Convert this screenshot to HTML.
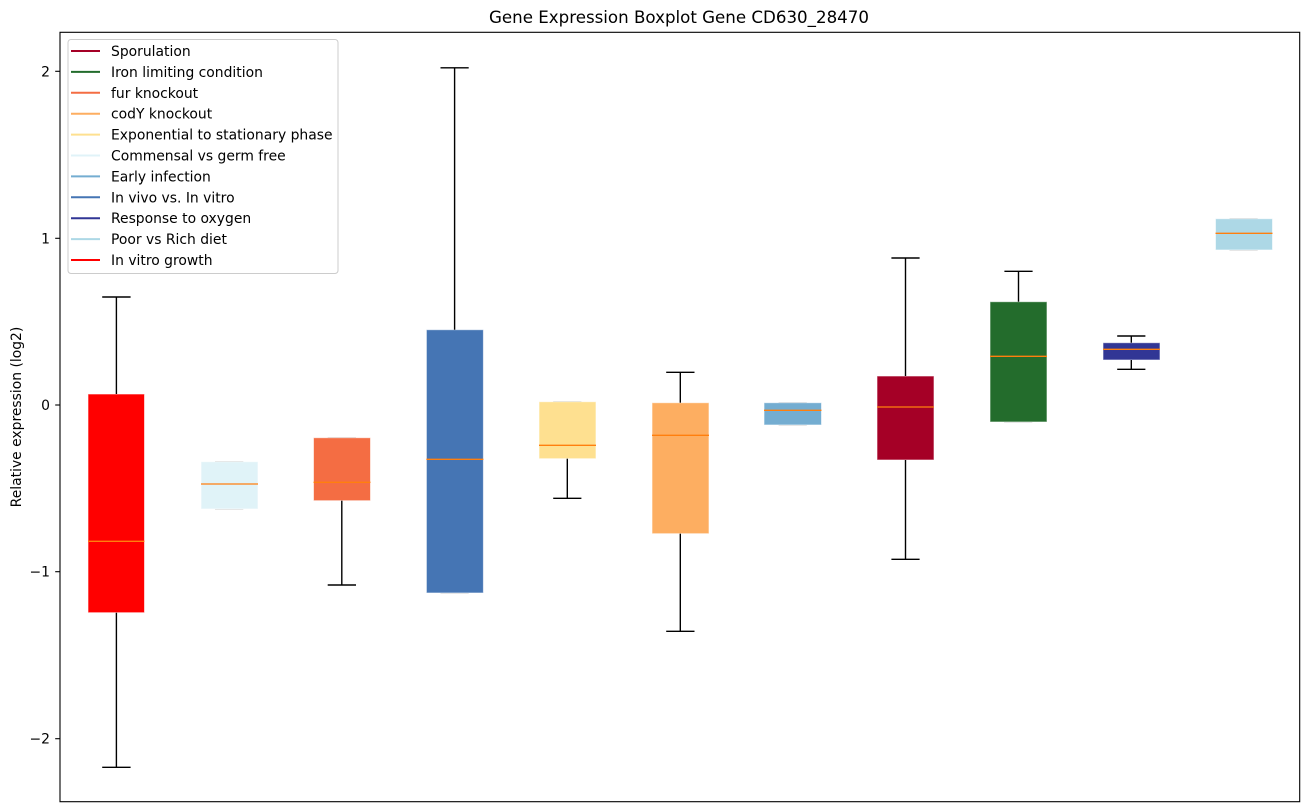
<!DOCTYPE html>
<html><head><meta charset="utf-8"><style>
html,body{margin:0;padding:0;background:#fff;}
svg{display:block;}
text{font-family:"DejaVu Sans","Liberation Sans",sans-serif;fill:#000;}
</style></head><body>
<svg width="1309" height="812" viewBox="0 0 1309 812" xmlns="http://www.w3.org/2000/svg">
<rect x="0" y="0" width="1309" height="812" fill="#fff"/>
<text x="679" y="23" font-size="16.67" text-anchor="middle">Gene Expression Boxplot Gene CD630_28470</text>

<!-- gray caps coinciding with box edges -->
<g stroke="#c8c8c8" stroke-width="1.4">
<line x1="215" x2="243.3" y1="461.7" y2="461.7"/><line x1="215" x2="243.3" y1="509" y2="509"/>
<line x1="327.7" x2="356" y1="437.7" y2="437.7"/>
<line x1="440.5" x2="468.7" y1="593" y2="593"/>
<line x1="553.2" x2="581.4" y1="401.7" y2="401.7"/>
<line x1="778.6" x2="806.8" y1="402.7" y2="402.7"/><line x1="778.6" x2="806.8" y1="425" y2="425"/>
<line x1="1004.1" x2="1032.3" y1="422" y2="422"/>
<line x1="1229.5" x2="1257.7" y1="218.7" y2="218.7"/><line x1="1229.5" x2="1257.7" y1="250" y2="250"/>
</g>

<!-- boxes -->
<g stroke="#ffffff" stroke-opacity="0.6" stroke-width="1">
<rect x="88" y="394" width="56.5" height="218.7" fill="#ff0000"/>
<rect x="201" y="461.7" width="57" height="47.3" fill="#e0f3f8"/>
<rect x="313.5" y="437.7" width="57" height="63" fill="#f46d43"/>
<rect x="426.4" y="329.7" width="57" height="263.3" fill="#4575b4"/>
<rect x="539" y="401.7" width="57" height="57" fill="#fee090"/>
<rect x="652" y="402.7" width="57" height="131" fill="#fdae61"/>
<rect x="764" y="402.7" width="57.5" height="22.3" fill="#74add1"/>
<rect x="877" y="376" width="57" height="84" fill="#a50026"/>
<rect x="990" y="301.7" width="57" height="120.3" fill="#236c2c"/>
<rect x="1103" y="342.7" width="57" height="17.3" fill="#313695"/>
<rect x="1215.5" y="218.7" width="57" height="31.3" fill="#add8e6"/>
</g>

<!-- medians -->
<g stroke="#ff7f0e" stroke-width="1.3">
<line x1="88" x2="144.5" y1="541.3" y2="541.3"/>
<line x1="201" x2="258" y1="484" y2="484"/>
<line x1="313.5" x2="370.5" y1="482.3" y2="482.3"/>
<line x1="426.4" x2="483.4" y1="459.3" y2="459.3"/>
<line x1="539" x2="596" y1="445.3" y2="445.3"/>
<line x1="652" x2="709" y1="435.3" y2="435.3"/>
<line x1="764" x2="821.5" y1="410.3" y2="410.3"/>
<line x1="877" x2="934" y1="407" y2="407"/>
<line x1="990" x2="1047" y1="356.3" y2="356.3"/>
<line x1="1103" x2="1160" y1="349.3" y2="349.3"/>
<line x1="1215.5" x2="1272.5" y1="233.3" y2="233.3"/>
</g>

<!-- whiskers & caps -->
<g stroke="#000" stroke-width="1.4" fill="none">
<line x1="116.4" x2="116.4" y1="297" y2="394"/><line x1="102.2" x2="130.6" y1="297" y2="297"/>
<line x1="116.4" x2="116.4" y1="612.7" y2="767.3"/><line x1="102.2" x2="130.6" y1="767.3" y2="767.3"/>
<line x1="341.8" x2="341.8" y1="500.7" y2="585"/><line x1="327.7" x2="356" y1="585" y2="585"/>
<line x1="454.6" x2="454.6" y1="67.8" y2="329.7"/><line x1="440.5" x2="468.7" y1="67.8" y2="67.8"/>
<line x1="567.3" x2="567.3" y1="458.7" y2="498.3"/><line x1="553.2" x2="581.4" y1="498.3" y2="498.3"/>
<line x1="680.3" x2="680.3" y1="372.3" y2="402.7"/><line x1="666.2" x2="694.5" y1="372.3" y2="372.3"/>
<line x1="680.3" x2="680.3" y1="533.7" y2="631.3"/><line x1="666.2" x2="694.5" y1="631.3" y2="631.3"/>
<line x1="905.5" x2="905.5" y1="258" y2="376"/><line x1="891.4" x2="919.6" y1="258" y2="258"/>
<line x1="905.5" x2="905.5" y1="460" y2="559.3"/><line x1="891.4" x2="919.6" y1="559.3" y2="559.3"/>
<line x1="1018.5" x2="1018.5" y1="271.3" y2="301.7"/><line x1="1004.4" x2="1032.6" y1="271.3" y2="271.3"/>
<line x1="1131.3" x2="1131.3" y1="336" y2="342.7"/><line x1="1117.2" x2="1145.4" y1="336" y2="336"/>
<line x1="1131.3" x2="1131.3" y1="360" y2="369.3"/><line x1="1117.2" x2="1145.4" y1="369.3" y2="369.3"/>
</g>

<!-- axes frame -->
<rect x="60" y="32.3" width="1239.7" height="769.4" fill="none" stroke="#000" stroke-width="1.1"/>

<!-- y ticks -->
<g stroke="#000" stroke-width="1.1">
<line x1="55.2" x2="60" y1="71.3" y2="71.3"/>
<line x1="55.2" x2="60" y1="238.3" y2="238.3"/>
<line x1="55.2" x2="60" y1="405" y2="405"/>
<line x1="55.2" x2="60" y1="571.7" y2="571.7"/>
<line x1="55.2" x2="60" y1="738.7" y2="738.7"/>
</g>
<g font-size="13.9" text-anchor="end">
<text x="50" y="76.3">2</text>
<text x="50" y="243.3">1</text>
<text x="50" y="410">0</text>
<text x="50" y="576.7">−1</text>
<text x="50" y="743.7">−2</text>
</g>
<text transform="translate(21,417) rotate(-90)" font-size="13.9" text-anchor="middle">Relative expression (log2)</text>

<!-- legend -->
<rect x="68" y="39.5" width="270" height="234" rx="3" ry="3" fill="#fff" fill-opacity="0.8" stroke="#cccccc" stroke-width="1"/>
<g stroke-width="2">
<line x1="71" x2="100" y1="51" y2="51" stroke="#a50026"/>
<line x1="71" x2="100" y1="71.9" y2="71.9" stroke="#236c2c"/>
<line x1="71" x2="100" y1="92.8" y2="92.8" stroke="#f46d43"/>
<line x1="71" x2="100" y1="113.7" y2="113.7" stroke="#fdae61"/>
<line x1="71" x2="100" y1="134.6" y2="134.6" stroke="#fee090"/>
<line x1="71" x2="100" y1="155.5" y2="155.5" stroke="#e0f3f8"/>
<line x1="71" x2="100" y1="176.4" y2="176.4" stroke="#74add1"/>
<line x1="71" x2="100" y1="197.3" y2="197.3" stroke="#4575b4"/>
<line x1="71" x2="100" y1="218.2" y2="218.2" stroke="#313695"/>
<line x1="71" x2="100" y1="239.1" y2="239.1" stroke="#add8e6"/>
<line x1="71" x2="100" y1="260" y2="260" stroke="#ff0000"/>
</g>
<g font-size="13.9">
<text x="111" y="56">Sporulation</text>
<text x="111" y="76.9">Iron limiting condition</text>
<text x="111" y="97.8">fur knockout</text>
<text x="111" y="118.7">codY knockout</text>
<text x="111" y="139.6">Exponential to stationary phase</text>
<text x="111" y="160.5">Commensal vs germ free</text>
<text x="111" y="181.4">Early infection</text>
<text x="111" y="202.3">In vivo vs. In vitro</text>
<text x="111" y="223.2">Response to oxygen</text>
<text x="111" y="244.1">Poor vs Rich diet</text>
<text x="111" y="265">In vitro growth</text>
</g>
</svg>
</body></html>
